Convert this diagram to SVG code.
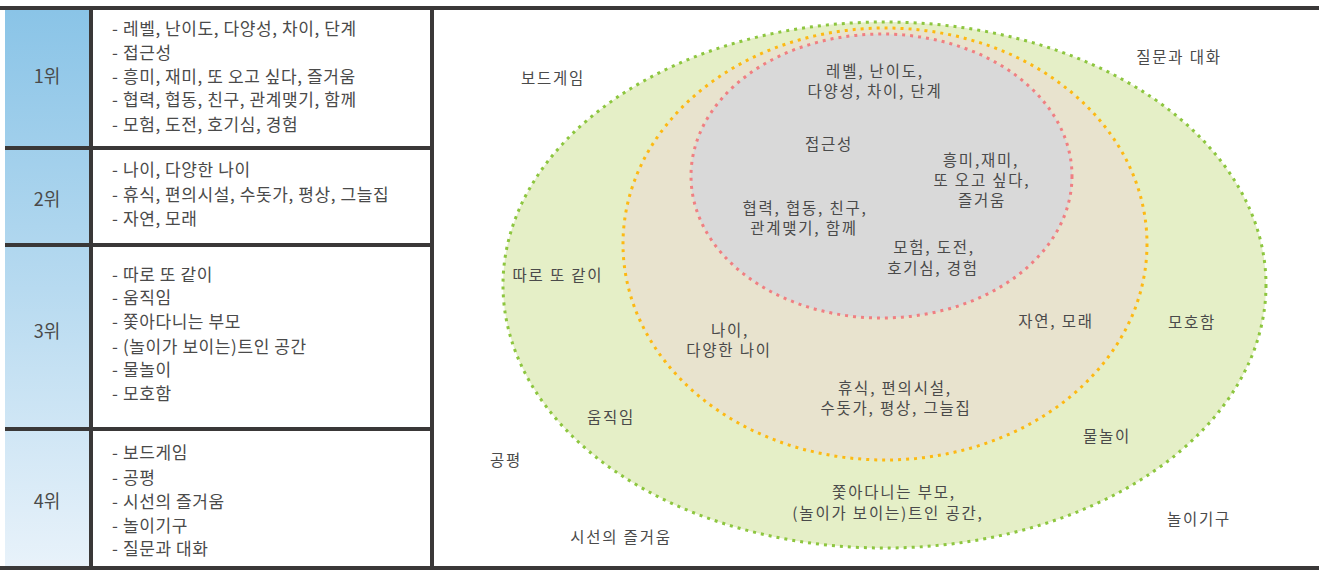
<svg xmlns="http://www.w3.org/2000/svg" width="1319" height="570" viewBox="0 0 1319 570">
<defs>
<linearGradient id="rankGrad" x1="0" y1="10" x2="0" y2="567" gradientUnits="userSpaceOnUse">
<stop offset="0" stop-color="#8AC4E7"/>
<stop offset="0.5" stop-color="#B7DAF0"/>
<stop offset="1" stop-color="#E8F2FA"/>
</linearGradient>
<style>
.t{font-family:"Noto Sans CJK KR","Noto Sans",sans-serif;fill:#4a4a4a;}
.li{font-size:17px;letter-spacing:0.6px;}
.rk{font-size:18px;text-anchor:middle;}
.lb{font-size:15.5px;text-anchor:middle;letter-spacing:1.8px;}
.bar{fill:#3a3838;}
.dot{stroke-width:3;stroke-dasharray:3 5;}
</style>
</defs>
<rect width="1319" height="570" fill="#ffffff"/>
<g id="table">
<rect x="5" y="10" width="85" height="557" fill="url(#rankGrad)"/>
<rect x="92" y="10" width="338" height="557" fill="#ffffff"/>
</g>
<g id="frame">
<rect class="bar" x="0" y="6" width="1319" height="4"/>
<rect class="bar" x="0" y="566" width="1319" height="4"/>
<rect class="bar" x="89" y="10" width="4" height="557"/>
<rect class="bar" x="430" y="10" width="4" height="557"/>
<rect class="bar" x="5" y="146" width="427" height="4"/>
<rect class="bar" x="5" y="243" width="427" height="4"/>
<rect class="bar" x="5" y="427" width="427" height="4"/>
</g>
<g id="rank1">
<text class="t rk" x="47" y="83">1위</text>
<text class="t li" x="112" y="35">- 레벨, 난이도, 다양성, 차이, 단계</text>
<text class="t li" x="112" y="59">- 접근성</text>
<text class="t li" x="112" y="83">- 흥미, 재미, 또 오고 싶다, 즐거움</text>
<text class="t li" x="112" y="106">- 협력, 협동, 친구, 관계맺기, 함께</text>
<text class="t li" x="112" y="131">- 모험, 도전, 호기심, 경험</text>
</g>
<g id="rank2">
<text class="t rk" x="47" y="206">2위</text>
<text class="t li" x="112" y="176">- 나이, 다양한 나이</text>
<text class="t li" x="112" y="201">- 휴식, 편의시설, 수돗가, 평상, 그늘집</text>
<text class="t li" x="112" y="225">- 자연, 모래</text>
</g>
<g id="rank3">
<text class="t rk" x="47" y="338">3위</text>
<text class="t li" x="112" y="281">- 따로 또 같이</text>
<text class="t li" x="112" y="304">- 움직임</text>
<text class="t li" x="112" y="328">- 쫓아다니는 부모</text>
<text class="t li" x="112" y="353">- (놀이가 보이는)트인 공간</text>
<text class="t li" x="112" y="376">- 물놀이</text>
<text class="t li" x="112" y="400">- 모호함</text>
</g>
<g id="rank4">
<text class="t rk" x="47" y="508">4위</text>
<text class="t li" x="112" y="459">- 보드게임</text>
<text class="t li" x="112" y="484">- 공평</text>
<text class="t li" x="112" y="508">- 시선의 즐거움</text>
<text class="t li" x="112" y="532">- 놀이기구</text>
<text class="t li" x="112" y="555">- 질문과 대화</text>
</g>
<g id="ellipse-rank4">
<ellipse cx="884.5" cy="285" rx="381.5" ry="263" fill="#E5EFC7" stroke="#8DC63F" class="dot"/>
</g>
<g id="ellipse-rank3">
<ellipse cx="885" cy="244" rx="262" ry="216" fill="#E8E3CE" stroke="#FDB913" class="dot"/>
</g>
<g id="ellipse-rank1">
<ellipse cx="881.5" cy="176" rx="190.5" ry="142" fill="#D9D9D9" stroke="#F07F82" class="dot"/>
</g>
<g id="labels">
<text class="t lb" x="875" y="77">레벨, 난이도,</text>
<text class="t lb" x="875" y="97">다양성, 차이, 단계</text>
<text class="t lb" x="829" y="150">접근성</text>
<text class="t lb" x="981" y="166">흥미,재미,</text>
<text class="t lb" x="982" y="186">또 오고 싶다,</text>
<text class="t lb" x="982" y="206">즐거움</text>
<text class="t lb" x="805" y="214">협력, 협동, 친구,</text>
<text class="t lb" x="804" y="234">관계맺기, 함께</text>
<text class="t lb" x="934" y="253">모험, 도전,</text>
<text class="t lb" x="933" y="274">호기심, 경험</text>
<text class="t lb" x="730" y="336">나이,</text>
<text class="t lb" x="729" y="356">다양한 나이</text>
<text class="t lb" x="1056" y="327">자연, 모래</text>
<text class="t lb" x="895" y="394">휴식, 편의시설,</text>
<text class="t lb" x="896" y="414">수돗가, 평상, 그늘집</text>
<text class="t lb" x="553" y="84">보드게임</text>
<text class="t lb" x="1179" y="63">질문과 대화</text>
<text class="t lb" x="558" y="281">따로 또 같이</text>
<text class="t lb" x="1192" y="328">모호함</text>
<text class="t lb" x="611" y="423">움직임</text>
<text class="t lb" x="1107" y="442">물놀이</text>
<text class="t lb" x="506" y="466">공평</text>
<text class="t lb" x="894" y="498">쫓아다니는 부모,</text>
<text class="t lb" x="888" y="519">(놀이가 보이는)트인 공간,</text>
<text class="t lb" x="1199" y="525">놀이기구</text>
<text class="t lb" x="621" y="543">시선의 즐거움</text>
</g>
</svg>
